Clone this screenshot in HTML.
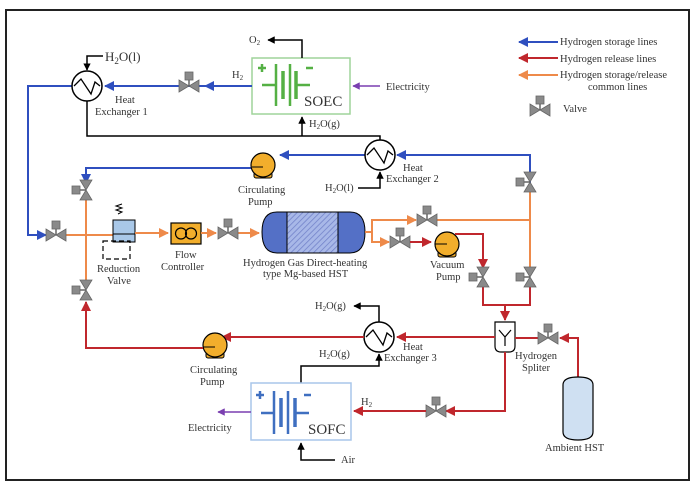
<!DOCTYPE html>
<html><head><meta charset="utf-8"><style>
html,body{margin:0;padding:0;background:#fff;width:700px;height:491px;overflow:hidden}
svg{display:block}
text{font-family:"Liberation Serif",serif;font-size:10.5px;fill:#333}
</style></head><body>
<svg width="700" height="491" viewBox="0 0 700 491" xmlns="http://www.w3.org/2000/svg">
<defs>
<marker id="ab" viewBox="0 0 10 10" refX="9" refY="5" markerWidth="5" markerHeight="5" orient="auto"><path d="M0,0L10,5L0,10z" fill="#2f4fbf"/></marker>
<marker id="ar" viewBox="0 0 10 10" refX="9" refY="5" markerWidth="5" markerHeight="5" orient="auto"><path d="M0,0L10,5L0,10z" fill="#c0272d"/></marker>
<marker id="ao" viewBox="0 0 10 10" refX="9" refY="5" markerWidth="5" markerHeight="5" orient="auto"><path d="M0,0L10,5L0,10z" fill="#ee8a4a"/></marker>
<marker id="ak" viewBox="0 0 10 10" refX="9" refY="5" markerWidth="5" markerHeight="5" orient="auto"><path d="M0,0L10,5L0,10z" fill="#000"/></marker>
<marker id="ap" viewBox="0 0 10 10" refX="9" refY="5" markerWidth="5" markerHeight="5" orient="auto"><path d="M0,0L10,5L0,10z" fill="#7a3fb0"/></marker>
<g id="vh"><path d="M-10,-6L0,0L-10,6zM10,-6L0,0L10,6z" fill="#8a8a8a" stroke="#666" stroke-width="0.8"/><line x1="0" y1="0" x2="0" y2="-7" stroke="#666" stroke-width="1.5"/><rect x="-4" y="-14" width="8" height="8" fill="#8a8a8a" stroke="#666" stroke-width="0.8"/></g>
<g id="vv"><path d="M-6,-10L0,0L6,-10zM-6,10L0,0L6,10z" fill="#8a8a8a" stroke="#666" stroke-width="0.8"/><line x1="0" y1="0" x2="-7" y2="0" stroke="#666" stroke-width="1.5"/><rect x="-14" y="-4" width="8" height="8" fill="#8a8a8a" stroke="#666" stroke-width="0.8"/></g>
<g id="hx"><circle r="15" fill="#fff" stroke="#000" stroke-width="1.5"/><path d="M-13,0L-6,-7L4,8L8,-4L13,0" fill="none" stroke="#000" stroke-width="1.3"/></g>
<g id="pump"><rect x="-9" y="7" width="18" height="6" rx="2" fill="#e8a62a" stroke="#000" stroke-width="1"/><circle r="12" fill="#f2ae2c" stroke="#000" stroke-width="1.2"/></g>
</defs>
<rect x="6" y="10" width="683" height="470" fill="none" stroke="#222" stroke-width="2"/>

<!-- SOEC -->
<rect x="252" y="58" width="98" height="56" fill="#fff" stroke="#9fd49a" stroke-width="1.5"/>
<g stroke="#55b044" stroke-width="2.5" fill="none">
<line x1="262" y1="85" x2="276" y2="85"/><line x1="276" y1="64" x2="276" y2="106"/><line x1="283" y1="71" x2="283" y2="99" stroke-width="3.5"/>
<line x1="290" y1="64" x2="290" y2="106"/><line x1="296" y1="71" x2="296" y2="99" stroke-width="3.5"/><line x1="296" y1="85" x2="310" y2="85"/>
<line x1="258" y1="68" x2="266" y2="68"/><line x1="262" y1="64" x2="262" y2="72"/><line x1="306" y1="68" x2="313" y2="68"/>
</g>
<text x="304" y="106" style="font-size:15px">SOEC</text>
<text x="232" y="78">H<tspan style="font-size:7px" dy="2">2</tspan></text>
<path d="M302,58V40H268" fill="none" stroke="#000" stroke-width="1.5" marker-end="url(#ak)"/>
<text x="249" y="43">O<tspan style="font-size:7px" dy="2">2</tspan></text>
<path d="M380,86H353" stroke="#7a3fb0" stroke-width="1.5" marker-end="url(#ap)"/>
<text x="386" y="90">Electricity</text>

<!-- HX1 -->
<path d="M252,86H105" stroke="#2f4fbf" stroke-width="2" marker-end="url(#ab)"/>
<path d="M252,86H205" stroke="#2f4fbf" stroke-width="2" marker-end="url(#ab)"/>
<use href="#vh" x="189" y="86"/>
<path d="M72,86H28V235H46" fill="none" stroke="#2f4fbf" stroke-width="2" marker-end="url(#ab)"/>
<use href="#hx" x="87" y="86"/>
<path d="M103,56H87V70" fill="none" stroke="#000" stroke-width="1.5" marker-end="url(#ak)"/>
<text x="105" y="61" style="font-size:13px">H<tspan style="font-size:9px" dy="3">2</tspan><tspan dy="-3">O(l)</tspan></text>
<text x="115" y="103">Heat</text><text x="95" y="115">Exchanger 1</text>
<path d="M87,101V136H380V140" fill="none" stroke="#000" stroke-width="1.5"/>
<path d="M302,136V117" stroke="#000" stroke-width="1.5" marker-end="url(#ak)"/>
<text x="309" y="127">H<tspan style="font-size:7px" dy="2">2</tspan><tspan dy="-2">O(g)</tspan></text>

<!-- HX2 -->
<path d="M530,270V155H397" fill="none" stroke="#2f4fbf" stroke-width="2" marker-end="url(#ab)"/>
<path d="M530,190V270" stroke="#ee8a4a" stroke-width="2"/>
<use href="#vv" x="530" y="182"/>
<path d="M365,155H280" stroke="#2f4fbf" stroke-width="2" marker-end="url(#ab)"/>
<use href="#hx" x="380" y="155"/>
<path d="M358,188H380V172" fill="none" stroke="#000" stroke-width="1.5" marker-end="url(#ak)"/>
<text x="325" y="191">H<tspan style="font-size:7px" dy="2">2</tspan><tspan dy="-2">O(l)</tspan></text>
<text x="403" y="171">Heat</text><text x="386" y="182">Exchanger 2</text>
<path d="M252,168H86V183" fill="none" stroke="#2f4fbf" stroke-width="2" marker-end="url(#ab)"/>
<use href="#pump" x="263" y="165"/>
<line x1="263" y1="167" x2="252" y2="167" stroke="#000" stroke-width="1"/>
<text x="238" y="193">Circulating</text><text x="248" y="205">Pump</text>

<!-- left vertical orange -->
<path d="M86,198V282" stroke="#ee8a4a" stroke-width="2"/>
<use href="#vv" x="86" y="190"/>
<use href="#vv" x="86" y="290"/>
<path d="M66,235H113" stroke="#ee8a4a" stroke-width="2"/>
<use href="#vh" x="56" y="235"/>
<!-- reduction valve -->
<path d="M118,214l4,-2l-6,-2l6,-2l-6,-2l6,-2" fill="none" stroke="#000" stroke-width="1"/>
<rect x="113" y="220" width="22" height="22" fill="#a9c8e8" stroke="#000" stroke-width="1"/>
<line x1="113" y1="234" x2="135" y2="234" stroke="#000" stroke-width="1"/>
<rect x="103" y="241" width="27" height="18" fill="none" stroke="#000" stroke-width="1.2" stroke-dasharray="5,3"/>
<path d="M135,233H168" stroke="#ee8a4a" stroke-width="2" marker-end="url(#ao)"/>
<text x="97" y="272">Reduction</text><text x="107" y="284">Valve</text>
<rect x="171" y="223" width="30" height="21" fill="#f2ae2c" stroke="#000" stroke-width="1.2"/>
<circle cx="181" cy="233.5" r="5.5" fill="none" stroke="#000" stroke-width="1.2"/>
<circle cx="191" cy="233.5" r="5.5" fill="none" stroke="#000" stroke-width="1.2"/>
<text x="175" y="258">Flow</text><text x="161" y="270">Controller</text>
<path d="M201,233H216" stroke="#ee8a4a" stroke-width="2" marker-end="url(#ao)"/>
<path d="M238,233H259" stroke="#ee8a4a" stroke-width="2" marker-end="url(#ao)"/>
<use href="#vh" x="228" y="233"/>
<!-- tank -->
<defs><pattern id="hatch" width="4" height="4" patternUnits="userSpaceOnUse" patternTransform="rotate(45)"><rect width="4" height="4" fill="#a8b8e8"/><line x1="0" y1="0" x2="0" y2="4" stroke="#7080c8" stroke-width="1.5"/></pattern></defs>
<path d="M287,212H277Q262,212 262,232Q262,253 277,253H287Z" fill="#5470c6" stroke="#000" stroke-width="1"/>
<path d="M338,212H350Q365,212 365,232Q365,253 350,253H338Z" fill="#5470c6" stroke="#000" stroke-width="1"/>
<rect x="287" y="212" width="51" height="41" fill="url(#hatch)" stroke="#000" stroke-width="1"/>
<text x="243" y="266">Hydrogen Gas Direct-heating</text><text x="263" y="277">type Mg-based HST</text>

<!-- right of tank -->
<path d="M365,232H372V220H416" fill="none" stroke="#ee8a4a" stroke-width="2" marker-end="url(#ao)"/>
<path d="M437,220H530" stroke="#ee8a4a" stroke-width="2"/>
<use href="#vh" x="427" y="220"/>
<path d="M372,232V242H389" fill="none" stroke="#ee8a4a" stroke-width="2" marker-end="url(#ao)"/>
<use href="#vh" x="400" y="242"/>
<path d="M410,242H431" stroke="#c0272d" stroke-width="2" marker-end="url(#ar)"/>
<use href="#pump" x="447" y="244"/>
<line x1="447" y1="244" x2="435" y2="244" stroke="#000" stroke-width="1"/>
<path d="M455,234H483V268" fill="none" stroke="#c0272d" stroke-width="2" marker-end="url(#ar)"/>
<text x="430" y="268">Vacuum</text><text x="436" y="280">Pump</text>
<path d="M483,285V305H530V285" fill="none" stroke="#c0272d" stroke-width="2"/>
<use href="#vv" x="483" y="277"/>
<use href="#vv" x="530" y="277"/>
<path d="M505,305V320" stroke="#c0272d" stroke-width="2" marker-end="url(#ar)"/>
<!-- splitter -->
<path d="M495,322H515V346Q515,352 509,352H501Q495,352 495,346Z" fill="#fff" stroke="#000" stroke-width="1.2"/>
<path d="M499,330L505,337L511,330M505,337V346" fill="none" stroke="#000" stroke-width="1.2"/>
<text x="515" y="359">Hydrogen</text><text x="522" y="371">Spliter</text>
<path d="M495,337H397" stroke="#c0272d" stroke-width="2" marker-end="url(#ar)"/>
<path d="M578,380V338H560" fill="none" stroke="#c0272d" stroke-width="2" marker-end="url(#ar)"/>
<path d="M540,338H515" stroke="#c0272d" stroke-width="2"/>
<use href="#vh" x="548" y="338"/>
<path d="M563,385Q563,377 578,377Q593,377 593,385V432Q593,440 578,440Q563,440 563,432Z" fill="#cfe0f2" stroke="#000" stroke-width="1.2"/>
<text x="545" y="451">Ambient HST</text>
<path d="M505,352V411H446" fill="none" stroke="#c0272d" stroke-width="2" marker-end="url(#ar)"/>
<use href="#vh" x="436" y="411"/>
<path d="M426,411H354" stroke="#c0272d" stroke-width="2" marker-end="url(#ar)"/>
<text x="361" y="405">H<tspan style="font-size:7px" dy="2">2</tspan></text>

<!-- HX3 -->
<use href="#hx" x="379" y="337"/>
<text x="403" y="350">Heat</text><text x="384" y="361">Exchanger 3</text>
<path d="M379,322V306H354" fill="none" stroke="#000" stroke-width="1.5" marker-end="url(#ak)"/>
<text x="315" y="309">H<tspan style="font-size:7px" dy="2">2</tspan><tspan dy="-2">O(g)</tspan></text>
<path d="M301,383V366H379V354" fill="none" stroke="#000" stroke-width="1.5" marker-end="url(#ak)"/>
<text x="319" y="357">H<tspan style="font-size:7px" dy="2">2</tspan><tspan dy="-2">O(g)</tspan></text>
<path d="M364,337H222" stroke="#c0272d" stroke-width="2" marker-end="url(#ar)"/>
<use href="#pump" x="215" y="345"/>
<line x1="215" y1="347" x2="203" y2="347" stroke="#000" stroke-width="1"/>
<path d="M203,348H86V302" fill="none" stroke="#c0272d" stroke-width="2" marker-end="url(#ar)"/>
<text x="190" y="373">Circulating</text><text x="200" y="385">Pump</text>

<!-- SOFC -->
<rect x="251" y="383" width="100" height="57" fill="#fff" stroke="#a9c6ea" stroke-width="1.5"/>
<g stroke="#3f6fc0" stroke-width="2.5" fill="none">
<line x1="261" y1="413" x2="274" y2="413"/><line x1="274" y1="391" x2="274" y2="434"/><line x1="281" y1="398" x2="281" y2="427" stroke-width="3.5"/>
<line x1="288" y1="391" x2="288" y2="434"/><line x1="295" y1="398" x2="295" y2="427" stroke-width="3.5"/><line x1="295" y1="413" x2="309" y2="413"/>
<line x1="256" y1="395" x2="264" y2="395"/><line x1="260" y1="391" x2="260" y2="399"/><line x1="304" y1="395" x2="311" y2="395"/>
</g>
<text x="308" y="434" style="font-size:15px">SOFC</text>
<path d="M251,412H218" stroke="#7a3fb0" stroke-width="1.5" marker-end="url(#ap)"/>
<text x="188" y="431">Electricity</text>
<path d="M335,460H301V443" fill="none" stroke="#000" stroke-width="1.5" marker-end="url(#ak)"/>
<text x="341" y="463">Air</text>

<!-- legend -->
<path d="M558,42H519" stroke="#2f4fbf" stroke-width="2" marker-end="url(#ab)"/>
<text x="560" y="45">Hydrogen storage lines</text>
<path d="M558,58H519" stroke="#c0272d" stroke-width="2" marker-end="url(#ar)"/>
<text x="560" y="62">Hydrogen release lines</text>
<path d="M558,75H519" stroke="#ee8a4a" stroke-width="2" marker-end="url(#ao)"/>
<text x="560" y="78">Hydrogen storage/release</text>
<text x="588" y="90">common lines</text>
<use href="#vh" x="540" y="110"/>
<text x="563" y="112">Valve</text>
</svg>
</body></html>
